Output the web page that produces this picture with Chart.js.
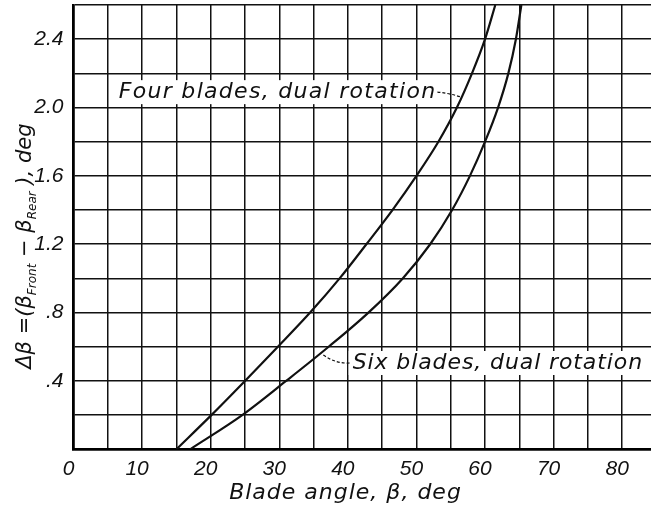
<!DOCTYPE html>
<html>
<head>
<meta charset="utf-8">
<script src="https://cdn.jsdelivr.net/npm/chart.js@4.4.1/dist/chart.umd.min.js"></script>
<style>
  html, body { margin: 0; padding: 0; background: #fff; }
  #wrap { width: 651px; height: 507px; }
</style>
</head>
<body>
<div id="wrap"><canvas id="chart" width="651" height="507"></canvas></div>
<script>
// Curves (blade angle in deg -> delta beta in deg)
const fourBeta  = [15.0, 20.1, 25.0, 29.8, 34.5, 38.8, 42.7, 46.5, 50.0, 53.2, 55.9, 58.1, 60.0, 61.5];
const fourDelta = [0, 0.2, 0.4, 0.6, 0.8, 1.0, 1.2, 1.4, 1.6, 1.8, 2.0, 2.2, 2.4, 2.6];
const sixBeta   = [17.0, 24.6, 31.0, 37.2, 43.0, 48.0, 52.0, 55.2, 57.8, 60.0, 61.9, 63.4, 64.5, 65.3];
const sixDelta  = [0, 0.2, 0.4, 0.6, 0.8, 1.0, 1.2, 1.4, 1.6, 1.8, 2.0, 2.2, 2.4, 2.6];

// Ticks and tick labels
const xGridValues = [0, 5, 10, 15, 20, 25, 30, 35, 40, 45, 50, 55, 60, 65, 70, 75, 80];
const xTickLabels = [0, 10, 20, 30, 40, 50, 60, 70, 80];
const yGridValues = [0, 0.2, 0.4, 0.6, 0.8, 1.0, 1.2, 1.4, 1.6, 1.8, 2.0, 2.2, 2.4, 2.6];
const yTickValues = [0.4, 0.8, 1.2, 1.6, 2.0, 2.4];
const yTickLabels = ['.4', '.8', '1.2', '1.6', '2.0', '2.4'];

// Annotation labels (anchor and leader end in data units)
const fourLabel = { text: 'Four blades, dual rotation', x: 6.6, y: 2.09, tipX: 56.6, tipY: 2.06, spacing: '1.3px' };
const sixLabel  = { text: 'Six blades, dual rotation',  x: 40.7, y: 0.505, tipX: 36.4, tipY: 0.552, spacing: '0.9px' };

const ink = '#111';
const letterFont = 'italic 22px "DejaVu Sans"';
const tickFont = { family: 'Liberation Sans', style: 'italic', size: 21 };

function toPoints(xs, ys) {
  return xs.map((x, i) => ({ x: x, y: ys[i] }));
}

function drawLabel(ctx, chart, lab, side) {
  const xs = chart.scales.x, ys = chart.scales.y;
  const px = xs.getPixelForValue(lab.x);
  const py = ys.getPixelForValue(lab.y);
  ctx.save();
  ctx.font = letterFont;
  ctx.letterSpacing = lab.spacing;
  const w = ctx.measureText(lab.text).width;
  // white box behind the lettering
  ctx.fillStyle = '#fff';
  ctx.fillRect(px - 4, py - 12, w + 6, 24);
  ctx.fillStyle = ink;
  ctx.textBaseline = 'middle';
  ctx.textAlign = 'left';
  ctx.fillText(lab.text, px, py);
  // dashed leader
  const tx = xs.getPixelForValue(lab.tipX);
  const ty = ys.getPixelForValue(lab.tipY);
  const sx = side === 'right' ? px + w + 1 : px - 3;
  const sy = py;
  ctx.beginPath();
  ctx.setLineDash([3, 2]);
  ctx.lineWidth = 1.2;
  ctx.strokeStyle = ink;
  ctx.moveTo(sx, sy);
  ctx.quadraticCurveTo((sx + tx) / 2, sy + 1, tx, ty);
  ctx.stroke();
  ctx.restore();
}

const labelsPlugin = {
  id: 'labelsPlugin',
  afterDatasetsDraw(chart) {
    const ctx = chart.ctx;
    drawLabel(ctx, chart, fourLabel, 'right');
    drawLabel(ctx, chart, sixLabel, 'left');
  },
  afterDraw(chart) {
    const ctx = chart.ctx;
    const area = chart.chartArea;
    ctx.save();
    ctx.fillStyle = ink;
    ctx.letterSpacing = '1px';
    // x title
    ctx.font = letterFont;
    ctx.textAlign = 'center';
    ctx.textBaseline = 'middle';
    ctx.fillText('Blade angle, \u03b2, deg', area.left + 272, area.bottom + 44);

    // y title, rotated, with subscripts
    ctx.letterSpacing = '0px';
    const parts = [
      { t: '\u0394\u03b2 =(\u03b2', sub: false },
      { t: 'Front', sub: true },
      { t: ' \u2212 \u03b2', sub: false },
      { t: 'Rear', sub: true },
      { t: ' ), deg', sub: false }
    ];
    const mainFont = 'italic 21px "DejaVu Sans"';
    const subFont = 'italic 12px "DejaVu Sans"';
    let total = 0;
    parts.forEach(p => {
      ctx.font = p.sub ? subFont : mainFont;
      p.w = ctx.measureText(p.t).width;
      total += p.w;
    });
    ctx.translate(31, (area.top + area.bottom) / 2 + 19);
    ctx.rotate(-Math.PI / 2);
    ctx.textAlign = 'left';
    ctx.textBaseline = 'alphabetic';
    let cx = -total / 2;
    parts.forEach(p => {
      ctx.font = p.sub ? subFont : mainFont;
      ctx.fillText(p.t, cx, p.sub ? 5 : 0);
      cx += p.w;
    });
    ctx.restore();
  }
};

new Chart(document.getElementById('chart'), {
  type: 'scatter',
  data: {
    datasets: [
      {
        label: 'Four blades, dual rotation',
        data: toPoints(fourBeta, fourDelta),
        showLine: true,
        borderColor: ink,
        borderWidth: 2.2,
        pointRadius: 0,
        cubicInterpolationMode: 'monotone'
      },
      {
        label: 'Six blades, dual rotation',
        data: toPoints(sixBeta, sixDelta),
        showLine: true,
        borderColor: ink,
        borderWidth: 2.2,
        pointRadius: 0,
        cubicInterpolationMode: 'monotone'
      }
    ]
  },
  options: {
    responsive: false,
    animation: false,
    devicePixelRatio: 1,
    layout: { padding: { top: 5, right: 0, left: 0, bottom: 0 } },
    plugins: {
      legend: { display: false },
      tooltip: { enabled: false }
    },
    scales: {
      x: {
        type: 'linear',
        min: 0,
        max: 84.2,
        afterFit: s => { s.height = 57.7; s.paddingLeft = 0; s.paddingRight = 0; },
        afterBuildTicks: s => { s.ticks = xGridValues.map(v => ({ value: v })); },
        grid: { color: ink, lineWidth: 1.5, drawTicks: false },
        border: { display: true, color: '#000', width: 2.6 },
        ticks: {
          autoSkip: false,
          maxRotation: 0,
          padding: 7,
          labelOffset: -5,
          color: ink,
          font: tickFont,
          callback: v => xTickLabels.includes(v) ? String(v) : ''
        }
      },
      y: {
        type: 'linear',
        min: 0,
        max: 2.6,
        afterFit: s => { s.width = 73.5; s.paddingTop = 0; s.paddingBottom = 0; },
        afterBuildTicks: s => { s.ticks = yGridValues.map(v => ({ value: v })); },
        grid: { color: ink, lineWidth: 1.5, drawTicks: false },
        border: { display: true, color: '#000', width: 2.6 },
        ticks: {
          autoSkip: false,
          padding: 10,
          color: ink,
          font: tickFont,
          callback: v => {
            const i = yTickValues.findIndex(t => Math.abs(t - v) < 1e-6);
            return i >= 0 ? yTickLabels[i] : '';
          }
        }
      }
    }
  },
  plugins: [labelsPlugin]
});
</script>
</body>
</html>
